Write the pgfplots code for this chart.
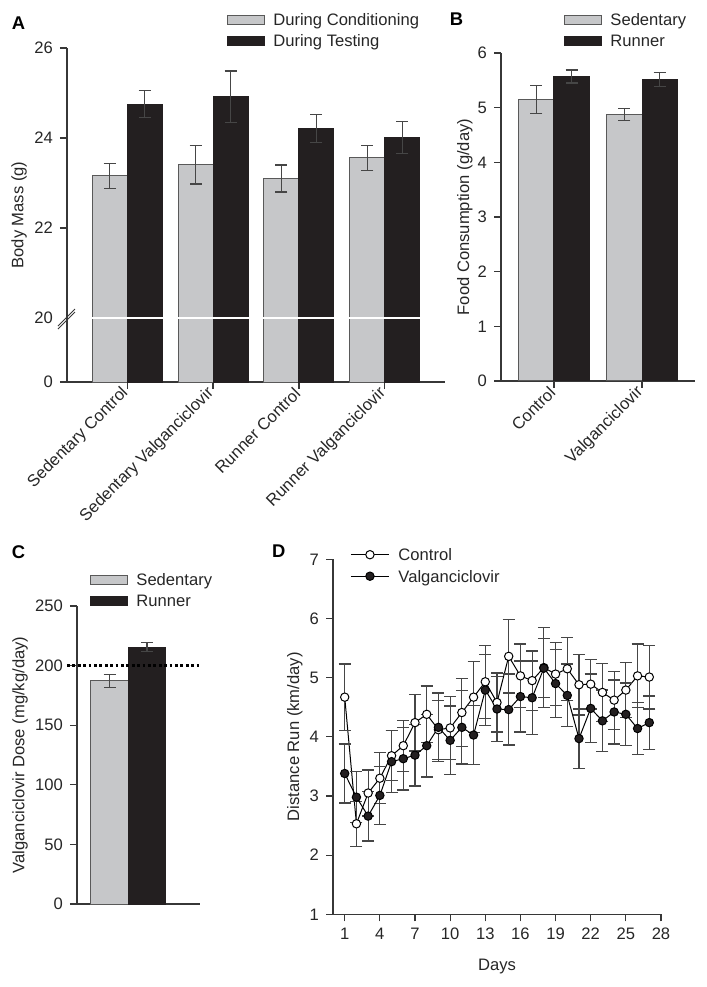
\documentclass[border=0pt]{standalone}
\usepackage{fontspec}
\setmainfont{Liberation Sans}
\usepackage{pgfplots}
\usepackage{pgfplotstable}
\pgfplotsset{compat=1.18}

\definecolor{barg}{RGB}{198,199,201}
\definecolor{bark}{RGB}{35,31,32}
\definecolor{axisc}{RGB}{55,55,55}
\definecolor{errc}{RGB}{70,70,70}

% panel A: body mass, y axis broken at 20 (offset 18.578 in the upper part)
\pgfplotstableread{
x cond conderr test testerr
0 23.16 0.28 24.75 0.30
1 23.41 0.43 24.92 0.57
2 23.10 0.30 24.21 0.31
3 23.56 0.28 24.01 0.35
}\massdata

% panel B: food consumption
\pgfplotstableread{
x sed sederr run runerr
0 5.15 0.25 5.57 0.12
1 4.88 0.11 5.52 0.13
}\fooddata

% panel C: dose
\pgfplotstableread{
x sed sederr run runerr
0 187.3 5.5 215.4 3.8
}\dosedata

% panel D: distance run per day
\pgfplotstableread{
day ctrl ctrlerr valg valgerr
1  4.67 0.56 3.38 0.50
2  2.53 0.38 2.98 0.43
3  3.05 0.39 2.66 0.42
4  3.30 0.43 3.01 0.49
5  3.68 0.42 3.58 0.52
6  3.85 0.43 3.63 0.53
7  4.24 0.48 3.69 0.52
8  4.38 0.48 3.85 0.53
9  4.12 0.50 4.16 0.58
10 4.15 0.53 3.94 0.58
11 4.41 0.58 4.16 0.62
12 4.67 0.60 4.03 0.50
13 4.93 0.62 4.79 0.60
14 4.58 0.50 4.47 0.55
15 5.36 0.62 4.46 0.60
16 5.03 0.54 4.68 0.60
17 4.95 0.50 4.66 0.62
18 5.17 0.68 5.16 0.50
19 5.06 0.53 4.90 0.57
20 5.15 0.53 4.70 0.53
21 4.88 0.51 3.97 0.50
22 4.89 0.42 4.48 0.58
23 4.75 0.49 4.27 0.52
24 4.62 0.49 4.42 0.54
25 4.79 0.46 4.38 0.53
26 5.03 0.54 4.14 0.44
27 5.01 0.54 4.24 0.45
}\rundata

\pgfplotsset{
  panel/.style={
    scale only axis,
    anchor=south west,
    axis lines*=left,
    axis line style={axisc, line width=0.6pt},
    tick align=outside,
    major tick length=3.5pt,
    tick style={axisc, line width=0.6pt},
    /pgf/number format/assume math mode=true,
    tick label style={font=\fontsize{8.3}{10}\selectfont, text=black!85},
    label style={font=\fontsize{8.3}{10}\selectfont, text=black!85},
    legend cell align=left,
    legend style={draw=none, fill=none, inner sep=0pt, row sep=4.2pt,
      cells={anchor=base west},
      nodes={inner sep=0pt, text height=5.9pt, text depth=0pt,
             font=\fontsize{8.3}{10}\selectfont, text=black!85}},
  },
  barpanel/.style={
    panel,
    ybar,
    legend image code/.code={%
      \draw[##1] (0pt,0.5pt) rectangle (18.5pt,5pt);
      \path (22.5pt,0pt);},
  },
  grayb/.style={fill=barg, draw=black!65, line width=0.5pt},
  blackb/.style={fill=bark, draw=bark, line width=0.5pt},
  errb/.style={error bars/.cd, y dir=both, y explicit,
    error bar style={errc, line width=0.6pt},
    error mark options={rotate=90, mark size=3pt, errc, line width=0.6pt}},
}

\begin{document}
\begin{tikzpicture}
\useasboundingbox (0,0) rectangle (353.5pt,493.5pt);

% ---------- A ----------
\begin{axis}[barpanel,
  at={(33.5pt,302.5pt)}, width=189pt, height=167pt,
  xmin=-0.7, xmax=3.7, ymin=0, ymax=7.422,
  bar width=0.407,
  ytick={0,3.422,5.422,7.422}, yticklabels={0,22,24,26},
  extra y ticks={1.422}, extra y tick labels={20},
  extra y tick style={tick style={draw=none}},
  xtick={0,1,2,3},
  xticklabels={Sedentary Control,Sedentary Valganciclovir,Runner Control,Runner Valganciclovir},
  xticklabel style={rotate=45, anchor=east, inner sep=1pt},
  ylabel={Body Mass (g)},
  ylabel style={at={(axis description cs:-0.127,0.5)}, anchor=center},
  legend style={at={(0.423,1.103)}, anchor=north west},
  clip=false,
]
\addplot[grayb, bar shift=-0.2035, errb]
  table[x=x, y expr=\thisrow{cond}-18.578, y error=conderr] {\massdata};
\addplot[blackb, bar shift=0.2035, errb]
  table[x=x, y expr=\thisrow{test}-18.578, y error=testerr] {\massdata};
\legend{During Conditioning, During Testing}
% axis break
\draw[white, line width=1.1pt] (axis cs:-0.42,1.422) -- (axis cs:3.42,1.422);
\draw[axisc, line width=0.5pt] ([xshift=-4.5pt,yshift=-5.5pt]axis cs:-0.7,1.422) -- ([xshift=4pt,yshift=3pt]axis cs:-0.7,1.422);
\draw[axisc, line width=0.5pt] ([xshift=-4.5pt,yshift=-4pt]axis cs:-0.7,1.422) -- ([xshift=4pt,yshift=4.5pt]axis cs:-0.7,1.422);
\end{axis}

% ---------- B ----------
\begin{axis}[barpanel,
  at={(250.5pt,303pt)}, width=97pt, height=164pt,
  xmin=-0.6, xmax=1.6, ymin=0, ymax=6,
  bar width=0.40,
  ytick={0,1,2,3,4,5,6},
  xtick={0,1}, xticklabels={Control,Valganciclovir},
  xticklabel style={rotate=45, anchor=east, inner sep=1pt},
  ylabel={Food Consumption (g/day)},
  ylabel style={at={(axis description cs:-0.186,0.5)}, anchor=center},
  legend style={at={(0.325,1.121)}, anchor=north west},
  clip=false,
]
\addplot[grayb, bar shift=-0.20, errb] table[x=x, y=sed, y error=sederr] {\fooddata};
\addplot[blackb, bar shift=0.20, errb] table[x=x, y=run, y error=runerr] {\fooddata};
\legend{Sedentary, Runner}
\end{axis}

% ---------- C ----------
\begin{axis}[barpanel,
  at={(38.5pt,41.5pt)}, width=61.5pt, height=149pt,
  xmin=-0.547, xmax=0.765, ymin=0, ymax=250,
  bar width=0.40,
  ytick={0,50,100,150,200,250},
  xtick=\empty,
  ylabel={Valganciclovir Dose (mg/kg/day)},
  ylabel style={at={(axis description cs:-0.463,0.5)}, anchor=center},
  legend style={at={(0.106,1.110)}, anchor=north west},
  clip=false,
]
\addplot[grayb, bar shift=-0.20, errb] table[x=x, y=sed, y error=sederr] {\dosedata};
\addplot[blackb, bar shift=0.20, errb] table[x=x, y=run, y error=runerr] {\dosedata};
\addplot[sharp plot, forget plot, black, line width=1.3pt, dash pattern=on 1.4pt off 1.3pt]
  coordinates {(-0.654,200) (0.765,200)};
\legend{Sedentary, Runner}
\end{axis}

% ---------- D ----------
\begin{axis}[panel,
  at={(166.5pt,36.35pt)}, width=164pt, height=177.5pt,
  xmin=0, xmax=28, ymin=1, ymax=7,
  xtick={1,4,...,28}, ytick={1,2,...,7},
  xlabel={Days},
  xlabel style={at={(axis description cs:0.5,-0.146)}, anchor=center},
  ylabel={Distance Run (km/day)},
  ylabel style={at={(axis description cs:-0.116,0.5)}, anchor=center},
  legend style={at={(0.052,1.031)}, anchor=north west, row sep=4.6pt},
  legend image code/.code={%
    \draw[mark repeat=2, mark phase=2, #1] plot coordinates {(0pt,2.9pt) (9.5pt,2.9pt) (19pt,2.9pt)};
    \path (23.5pt,0pt);},
  clip=false,
]
\addplot[black, line width=0.5pt, mark=*, mark size=2.1pt,
  mark options={fill=white, draw=black, line width=0.5pt}, errb]
  table[x=day, y=ctrl, y error=ctrlerr] {\rundata};
\addplot[black, line width=0.5pt, mark=*, mark size=2.1pt,
  mark options={fill=bark, draw=black, line width=0.5pt}, errb]
  table[x=day, y=valg, y error=valgerr] {\rundata};
\legend{Control, Valganciclovir}
\end{axis}

% panel letters
\node[font=\bfseries\fontsize{9.2}{10}\selectfont] at (9.25pt,481.75pt) {A};
\node[font=\bfseries\fontsize{9.2}{10}\selectfont] at (228.3pt,484pt) {B};
\node[font=\bfseries\fontsize{9.2}{10}\selectfont] at (9.25pt,217.25pt) {C};
\node[font=\bfseries\fontsize{9.2}{10}\selectfont] at (139.4pt,217.75pt) {D};
\end{tikzpicture}
\end{document}
